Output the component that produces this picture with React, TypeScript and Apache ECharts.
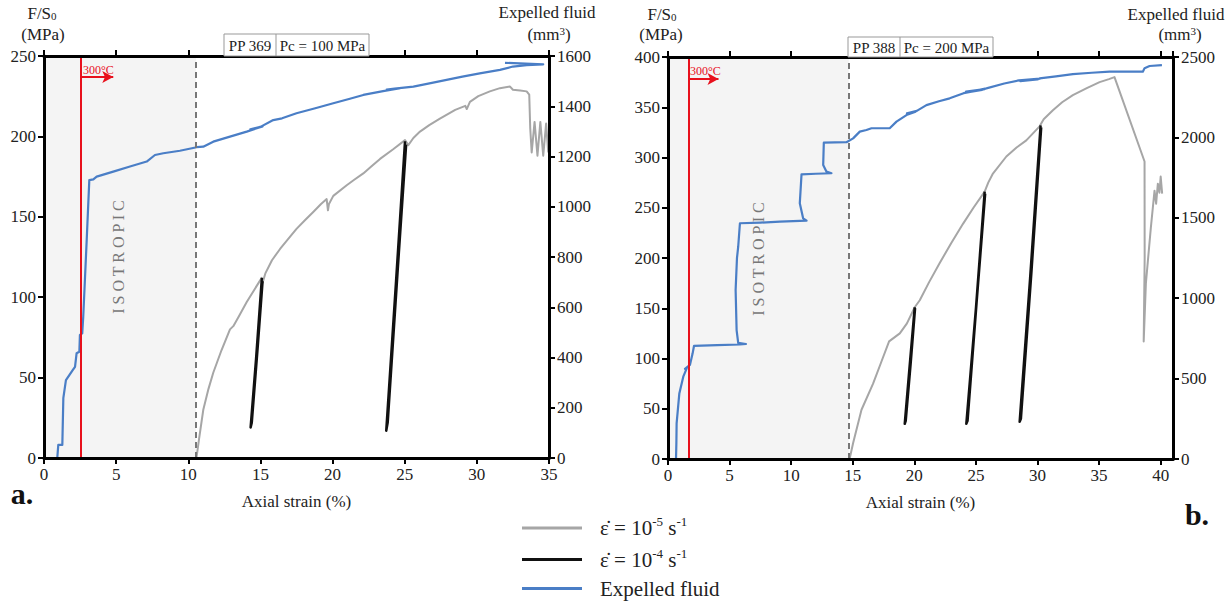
import React, { useEffect, useRef } from "react";
import * as echarts from "echarts";

const SERIF = "'Liberation Serif', 'Times New Roman', serif";

const NAME_SLOW = "ε̇ = 10⁻⁵ s⁻¹";
const NAME_FAST = "ε̇ = 10⁻⁴ s⁻¹";
const NAME_FLUID = "Expelled fluid";

// ---------- Panel a: PP 369, Pc = 100 MPa ----------
const isoEndA = 10.53;
const heatA = 2.56;
const arrowA = { y: 237, end: 4.8 };

const slowA: [number, number][] = [
  [0, 0], [10.5, 0], [10.58, 1], [10.75, 12], [11.04, 30], [11.4, 43], [11.73, 53], [12.3, 67],
  [12.89, 80], [13.12, 82], [13.5, 88], [14.05, 97], [14.6, 105], [15.09, 112], [15.15, 109],
  [15.35, 115], [15.8, 123], [16.36, 130], [17.0, 137], [17.5, 142.5], [18.1, 148], [18.66, 153],
  [19.2, 158], [19.59, 161], [19.68, 154], [19.75, 158], [20.05, 163], [20.98, 169.6], [21.5, 173],
  [22.13, 177], [22.7, 181.5], [23.29, 186], [24.2, 192], [25.02, 197.7], [25.25, 194.6], [25.6, 199],
  [26.06, 203], [26.7, 207], [27.44, 211], [28.5, 216.5], [29.2, 219], [29.3, 217], [29.52, 221.5],
  [30.1, 225], [30.9, 228], [31.6, 230], [32.3, 231], [32.5, 229], [33.0, 228.5], [33.45, 228],
  [33.63, 226], [33.7, 205], [33.8, 190], [34.0, 209], [34.2, 188], [34.4, 209], [34.6, 188],
  [34.8, 208], [34.95, 190],
];
const fastA1: [number, number][] = [
  [15.1, 112], [14.7, 62], [14.32, 19], [14.4, 22], [14.82, 70], [15.15, 110],
];
const fastA2: [number, number][] = [
  [25.02, 197], [24.4, 110], [23.72, 17], [23.82, 22], [24.5, 115], [25.1, 195],
];
const fluidA: [number, number][] = [
  [0.1, 0], [0.92, 0], [0.99, 52], [1.27, 52], [1.34, 238], [1.52, 310], [1.99, 350], [2.15, 363],
  [2.26, 417], [2.45, 423], [2.49, 490], [2.65, 496], [2.72, 562], [2.96, 868], [3.14, 1106],
  [3.42, 1109], [3.65, 1120], [4.8, 1140], [5.96, 1160], [7.12, 1180], [7.69, 1206], [8.27, 1213],
  [9.42, 1223], [10.58, 1237], [11.04, 1239], [11.73, 1259], [12.89, 1279], [14.05, 1299],
  [15.15, 1320], [14.3, 1308], [15.0, 1318], [15.89, 1345], [16.5, 1352], [17.5, 1372], [18.8, 1392],
  [20.05, 1412], [21.2, 1430], [22.13, 1445], [23.5, 1460], [24.7, 1472], [23.75, 1466], [24.3, 1470],
  [25.6, 1478], [26.8, 1492], [27.9, 1505], [29.0, 1518], [30.2, 1531], [31.6, 1545], [32.5, 1558],
  [33.45, 1564], [34.6, 1567], [31.95, 1573],
];

// ---------- Panel b: PP 388, Pc = 200 MPa ----------
const isoEndB = 14.68;
const heatB = 1.65;
const arrowB = { y: 378, end: 4.1 };

const slowB: [number, number][] = [
  [0, 0], [14.7, 0], [14.76, 1], [15.03, 16], [15.71, 49], [16.65, 75], [17.3, 96], [17.95, 117],
  [18.82, 125], [19.4, 135], [20.03, 151], [20.44, 158], [21.2, 176], [22.06, 195], [23.0, 215],
  [23.95, 234], [24.8, 250], [25.71, 266], [26.0, 275], [26.38, 284], [27.47, 301], [28.3, 310],
  [29.09, 317], [30.17, 331], [30.5, 338], [31.25, 347], [32.0, 355], [32.87, 362], [34.0, 369],
  [35.04, 375], [35.8, 378], [36.25, 380], [38.69, 296], [38.7, 200], [38.62, 117], [38.8, 175],
  [39.2, 230], [39.5, 267], [39.63, 254], [39.77, 274], [39.9, 265], [40.0, 281], [40.12, 264],
];
const fastB1: [number, number][] = [
  [20.03, 151], [19.6, 90], [19.22, 35], [19.3, 38], [19.7, 95], [20.06, 150],
];
const fastB2: [number, number][] = [
  [25.71, 266], [25.0, 150], [24.22, 35], [24.32, 38], [25.05, 155], [25.75, 264],
];
const fastB3: [number, number][] = [
  [30.25, 332], [29.4, 180], [28.55, 37], [28.65, 40], [29.5, 185], [30.3, 330],
];
const fluidB: [number, number][] = [
  [0, 0], [0.65, 0], [0.68, 100], [0.7, 222], [0.92, 408], [1.24, 512], [1.52, 564], [1.38, 560],
  [1.78, 585], [2.0, 657], [2.11, 703], [4.0, 708], [5.84, 712], [6.33, 715], [5.7, 722], [5.57, 802],
  [5.49, 1051], [5.6, 1250], [5.7, 1320], [5.84, 1466], [7.5, 1470], [9.08, 1476], [11.25, 1482],
  [10.97, 1497], [10.7, 1590], [10.84, 1770], [12.0, 1774], [13.27, 1777], [12.87, 1787], [12.6, 1828],
  [12.65, 1967], [14.49, 1970], [15.03, 1994], [15.57, 2036], [16.11, 2046], [16.52, 2057],
  [18.0, 2057], [18.55, 2098], [19.36, 2139], [20.1, 2160], [19.4, 2150], [20.2, 2165], [20.98, 2201],
  [22.0, 2225], [22.87, 2243], [24.0, 2275], [25.7, 2300], [24.2, 2285], [25.5, 2295], [24.4, 2282],
  [25.85, 2305], [27.3, 2335], [28.5, 2355], [30.2, 2365], [28.6, 2350], [30.0, 2360], [30.17, 2367],
  [31.5, 2380], [32.87, 2394], [34.4, 2402], [35.85, 2409], [37.5, 2409], [38.55, 2409], [38.69, 2430],
  [39.1, 2444], [40.1, 2450],
];

const GRAY = "#a6a6a6";
const BLACK = "#111111";
const BLUE = "#4a7ec6";
const RED = "#e8101c";
const TXT = "#222222";

function xAxisDef(grid: number, max: number, pos: "bottom" | "top") {
  const bottom = pos === "bottom";
  return {
    type: "value",
    gridIndex: grid,
    position: pos,
    min: 0,
    max,
    interval: 5,
    z: 5,
    name: bottom ? "Axial strain (%)" : "",
    nameLocation: "middle",
    nameGap: 35,
    nameTextStyle: { fontSize: 17, color: TXT, fontFamily: SERIF },
    axisLine: { show: true, onZero: false, lineStyle: { color: "#000", width: 3 } },
    axisTick: { show: true, length: 6, lineStyle: { color: "#000", width: 2 } },
    axisLabel: { show: bottom, fontSize: 17, color: TXT, fontFamily: SERIF, margin: 8, showMaxLabel: max === 35 },
    splitLine: { show: false },
  };
}

function yAxisDef(grid: number, max: number, interval: number, pos: "left" | "right") {
  return {
    type: "value",
    gridIndex: grid,
    position: pos,
    min: 0,
    max,
    interval,
    z: 5,
    axisLine: { show: true, onZero: false, lineStyle: { color: "#000", width: 3 } },
    axisTick: { show: true, length: 6, lineStyle: { color: "#000", width: 2 } },
    axisLabel: { fontSize: 17, color: TXT, fontFamily: SERIF, margin: 8, formatter: (v: number) => String(v) },
    splitLine: { show: false },
  };
}

function helper(xi: number, yi: number, isoEnd: number, heat: number, arrow: { y: number; end: number }) {
  return {
    type: "line",
    xAxisIndex: xi,
    yAxisIndex: yi,
    data: [],
    silent: true,
    markArea: {
      silent: true,
      itemStyle: { color: "#f4f4f4" },
      data: [[{ xAxis: 0 }, { xAxis: isoEnd }]],
    },
    markLine: {
      silent: true,
      symbol: "none",
      label: { show: false },
      emphasis: { disabled: true },
      data: [
        { xAxis: isoEnd, lineStyle: { type: [6, 4], color: "#777", width: 2 } },
        { xAxis: heat, lineStyle: { type: "solid", color: RED, width: 2 } },
        [
          { coord: [heat, arrow.y], symbol: "none", lineStyle: { type: "solid", color: RED, width: 2 } },
          { coord: [arrow.end, arrow.y], symbol: "arrow", symbolSize: [9, 11] },
        ],
      ],
    },
  };
}

function line(name: string, xi: number, yi: number, data: [number, number][], color: string, width: number) {
  return {
    type: "line",
    name,
    xAxisIndex: xi,
    yAxisIndex: yi,
    data,
    symbol: "none",
    showSymbol: false,
    silent: true,
    lineStyle: { color, width, join: "round" },
    itemStyle: { color },
  };
}

function titleBox(x: number, y: number, h: number, left: string, right: string) {
  const w1 = 52;
  const w2 = 93;
  return {
    type: "group",
    x,
    y,
    z: 100,
    children: [
      { type: "rect", z: 100, shape: { x: 0, y: 0, width: w1 + w2, height: h }, style: { fill: "#fff", stroke: "#999", lineWidth: 1 } },
      { type: "line", z: 101, shape: { x1: w1, y1: 0, x2: w1, y2: h }, style: { stroke: "#999", lineWidth: 1 } },
      { type: "text", z: 101, x: w1 / 2, y: h / 2 + 1, style: { text: left, align: "center", verticalAlign: "middle", fontSize: 15, fontFamily: SERIF, fill: TXT } },
      { type: "text", z: 101, x: w1 + w2 / 2, y: h / 2 + 1, style: { text: right, align: "center", verticalAlign: "middle", fontSize: 15, fontFamily: SERIF, fill: TXT } },
    ],
  };
}

function txt(x: number, y: number, text: string, extra: any = {}, rich?: any) {
  return {
    type: "text",
    x,
    y,
    z: 100,
    style: { text, align: "center", verticalAlign: "middle", fontSize: 17, fontFamily: SERIF, fill: TXT, rich, ...extra },
  };
}

const subRich = { b: { fontSize: 11, fontFamily: SERIF, fill: TXT, verticalAlign: "bottom", lineHeight: 12 } };
const supRich = { t: { fontSize: 11, fontFamily: SERIF, fill: TXT, verticalAlign: "top", lineHeight: 12 } };

export default function App() {
  const ref = useRef<HTMLDivElement>(null);
  useEffect(() => {
    document.body.style.margin = "0";
    if (!ref.current) return;
    const chart = echarts.init(ref.current, undefined, { renderer: "svg" });
    const option: any = {
      animation: false,
      textStyle: { fontFamily: SERIF },
      grid: [
        { left: 44, top: 56, width: 505, height: 402, containLabel: false },
        { left: 668, top: 57, width: 505, height: 402, containLabel: false },
      ],
      xAxis: [xAxisDef(0, 35, "bottom"), xAxisDef(0, 35, "top"), xAxisDef(1, 41, "bottom"), xAxisDef(1, 41, "top")],
      yAxis: [
        yAxisDef(0, 250, 50, "left"),
        yAxisDef(0, 1600, 200, "right"),
        yAxisDef(1, 400, 50, "left"),
        yAxisDef(1, 2500, 500, "right"),
      ],
      legend: {
        data: [NAME_SLOW, NAME_FAST, NAME_FLUID],
        orient: "vertical",
        left: 517,
        top: 510,
        icon: "rect",
        itemWidth: 60,
        itemHeight: 3,
        itemGap: 8,
        selectedMode: false,
        formatter: (name: string) => {
          if (name === NAME_SLOW) return "{m|ε̇ = 10}{s|-5}{m| s}{s|-1}";
          if (name === NAME_FAST) return "{m|ε̇ = 10}{s|-4}{m| s}{s|-1}";
          return "{m|Expelled fluid}";
        },
        textStyle: {
          padding: [0, 0, 0, 13],
          rich: {
            m: { fontSize: 21, lineHeight: 26, fontFamily: SERIF, color: TXT },
            s: { fontSize: 13, lineHeight: 14, verticalAlign: "top", fontFamily: SERIF, color: TXT },
          },
        },
      },
      series: [
        helper(0, 0, isoEndA, heatA, arrowA),
        line(NAME_SLOW, 0, 0, slowA, GRAY, 2),
        line(NAME_FAST, 0, 0, fastA1, BLACK, 2.5),
        line(NAME_FAST, 0, 0, fastA2, BLACK, 2.5),
        line(NAME_FLUID, 0, 1, fluidA, BLUE, 2.2),
        helper(2, 2, isoEndB, heatB, arrowB),
        line(NAME_SLOW, 2, 2, slowB, GRAY, 2),
        line(NAME_FAST, 2, 2, fastB1, BLACK, 2.5),
        line(NAME_FAST, 2, 2, fastB2, BLACK, 2.5),
        line(NAME_FAST, 2, 2, fastB3, BLACK, 2.5),
        line(NAME_FLUID, 2, 3, fluidB, BLUE, 2.2),
      ],
      graphic: [
        txt(42, 13, "F/S{b|0}", {}, subRich),
        txt(43, 34, "(MPa)"),
        txt(547, 12, "Expelled fluid"),
        txt(549, 34, "(mm{t|3})", {}, supRich),
        txt(662, 14, "F/S{b|0}", {}, subRich),
        txt(661, 34, "(MPa)"),
        txt(1176, 14, "Expelled fluid"),
        txt(1180, 34, "(mm{t|3})", {}, supRich),
        titleBox(224, 34, 22, "PP 369", "Pc = 100 MPa"),
        titleBox(848, 37, 20, "PP 388", "Pc = 200 MPa"),
        txt(83, 70, "300°C", { align: "left", fontSize: 12, fill: RED }),
        txt(690, 71, "300°C", { align: "left", fontSize: 12, fill: RED }),
        { type: "text", z: 100, x: 118, y: 257, rotation: Math.PI / 2, style: { text: "I S O T R O P I C", align: "center", verticalAlign: "middle", fontSize: 16, fontFamily: SERIF, fill: "#777" } },
        { type: "text", z: 100, x: 758, y: 259, rotation: Math.PI / 2, style: { text: "I S O T R O P I C", align: "center", verticalAlign: "middle", fontSize: 16, fontFamily: SERIF, fill: "#777" } },
        txt(22, 493, "a.", { fontSize: 30, fontWeight: "bold", fill: "#111" }),
        txt(1197, 514, "b.", { fontSize: 30, fontWeight: "bold", fill: "#111" }),
      ],
    };
    chart.setOption(option);
    return () => chart.dispose();
  }, []);
  return <div ref={ref} style={{ width: 1229, height: 610 }} />;
}
